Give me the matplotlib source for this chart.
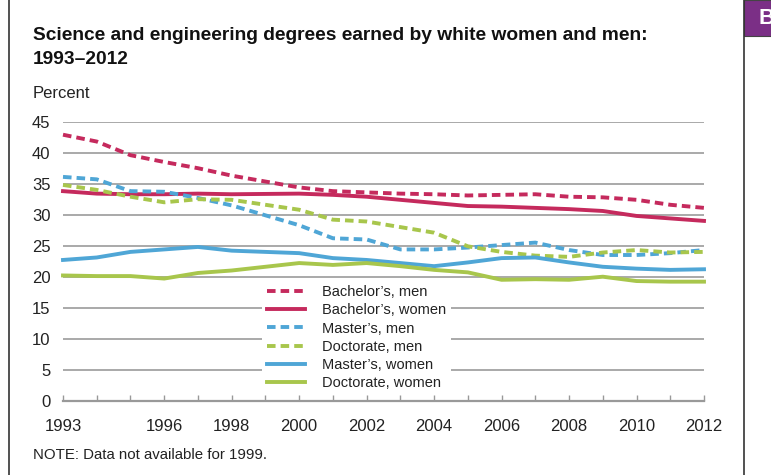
import matplotlib
matplotlib.use("Agg")
import matplotlib.pyplot as plt
from matplotlib.patches import Rectangle
from matplotlib.lines import Line2D

# years with data (1999 not available)
years = [1993, 1994, 1995, 1996, 1997, 1998, 2000, 2001, 2002, 2003,
         2004, 2005, 2006, 2007, 2008, 2009, 2010, 2011, 2012]

bach_men = [42.9, 41.8, 39.6, 38.5, 37.5, 36.3, 34.4, 33.8, 33.6, 33.4,
            33.3, 33.1, 33.2, 33.3, 32.9, 32.8, 32.4, 31.6, 31.1]
bach_women = [33.8, 33.4, 33.3, 33.3, 33.4, 33.3, 33.4, 33.2, 32.9, 32.4,
              31.9, 31.4, 31.3, 31.1, 30.9, 30.6, 29.8, 29.4, 29.0]
mast_men = [36.1, 35.7, 33.8, 33.7, 32.7, 31.5, 28.3, 26.2, 26.0, 24.4,
            24.4, 24.7, 25.1, 25.5, 24.3, 23.5, 23.5, 23.8, 24.3]
doc_men = [34.8, 34.0, 32.9, 32.0, 32.5, 32.4, 30.8, 29.2, 28.9, 28.0,
           27.1, 24.9, 24.0, 23.4, 23.2, 23.9, 24.3, 23.9, 24.0]
mast_women = [22.7, 23.1, 24.0, 24.4, 24.8, 24.2, 23.8, 23.0, 22.7, 22.2,
              21.7, 22.3, 23.0, 23.1, 22.3, 21.6, 21.3, 21.1, 21.2]
doc_women = [20.2, 20.1, 20.1, 19.7, 20.6, 21.0, 22.2, 21.9, 22.2, 21.7,
             21.1, 20.7, 19.5, 19.6, 19.5, 20.0, 19.3, 19.2, 19.2]

tick_years = list(range(1993, 2013))
label_years = [1993, 1996, 1998, 2000, 2002, 2004, 2006, 2008, 2010, 2012]
y_ticks = [0, 5, 10, 15, 20, 25, 30, 35, 40, 45]

RED = "#c52a5d"
BLUE = "#4fa6d6"
GREEN = "#a8c64c"
GRID = "#a3a3a3"
TXT = "#222222"

plt.rcParams["font.family"] = ["Liberation Sans", "DejaVu Sans"]

W, H = 771, 475
fig = plt.figure(figsize=(W / 100, H / 100), dpi=100)

def fx(px):
    return px / W

def fy(py):
    return 1 - py / H

x0, x1 = 63, 704
y0, y1 = 400.7, 121.7
ax = fig.add_axes([fx(x0), fy(y0), fx(x1) - fx(x0), fy(y1) - fy(y0)])
ax.set_xlim(1993, 2012)
ax.set_ylim(0, 45)

series = [
    ("Bachelor\u2019s, men", bach_men, RED, True),
    ("Bachelor\u2019s, women", bach_women, RED, False),
    ("Master\u2019s, men", mast_men, BLUE, True),
    ("Doctorate, men", doc_men, GREEN, True),
    ("Master\u2019s, women", mast_women, BLUE, False),
    ("Doctorate, women", doc_women, GREEN, False),
]

for label, vals, col, dashed in series:
    if dashed:
        ax.plot(years, vals, color=col, lw=2.8, dashes=(2.2, 1.3), label=label,
                clip_on=False, solid_capstyle="butt", zorder=3)
    else:
        ax.plot(years, vals, color=col, lw=2.8, label=label, clip_on=False,
                solid_joinstyle="round", zorder=3)

for s in ["top", "right", "left"]:
    ax.spines[s].set_visible(False)
ax.spines["bottom"].set_color("#999999")
ax.spines["bottom"].set_linewidth(1.6)

ax.set_yticks(y_ticks[1:])
ax.yaxis.grid(True, color=GRID, lw=1.3)
ax.set_axisbelow(True)
ax.tick_params(axis="y", length=0, pad=9, labelsize=12, labelcolor=TXT)
ax.set_yticks([0], minor=True)
ax.set_yticklabels(["0"], minor=True)
ax.tick_params(axis="y", which="minor", length=0, pad=9, labelsize=12, labelcolor=TXT)

ax.set_xticks(tick_years)
ax.set_xticklabels([str(y) if y in label_years else "" for y in tick_years])
ax.tick_params(axis="x", direction="in", length=4, width=1, color="#999999",
               pad=13, labelsize=12, labelcolor=TXT)

leg = ax.legend(loc="upper left", bbox_to_anchor=(fx(262), fy(280)),
                bbox_transform=fig.transFigure, frameon=True, fontsize=10.5,
                handlelength=2.6, handletextpad=1.15, labelspacing=0.29,
                borderpad=0.35, borderaxespad=0)
leg.get_frame().set_facecolor("white")
leg.get_frame().set_edgecolor("none")
leg.get_frame().set_alpha(1)
for t in leg.get_texts():
    t.set_color(TXT)

fig.text(fx(33), fy(35), "Science and engineering degrees earned by white women and men:",
         fontsize=13.8, fontweight="bold", color="#111111", va="center", ha="left")
fig.text(fx(33), fy(60), "1993\u20132012", fontsize=13.8, fontweight="bold",
         color="#111111", va="center", ha="left")
fig.text(fx(33), fy(93), "Percent", fontsize=12, color=TXT, va="center", ha="left")
fig.text(fx(33), fy(455), "NOTE: Data not available for 1999.", fontsize=10.8,
         color=TXT, va="center", ha="left")

# panel borders
fig.add_artist(Line2D([fx(9), fx(9)], [0, 1], color="#333333", lw=1.2))
fig.add_artist(Line2D([fx(744), fx(744)], [0, 1], color="#333333", lw=1.2))
fig.add_artist(Rectangle((fx(744), fy(36)), fx(771) - fx(744), fy(0) - fy(36),
                         transform=fig.transFigure, facecolor="#7b2f86",
                         edgecolor="#444444", lw=0.8))
fig.text(fx(758), fy(18), "B", fontsize=16, fontweight="bold", color="white",
         va="center", ha="left")

fig.savefig("out.png", dpi=100)
